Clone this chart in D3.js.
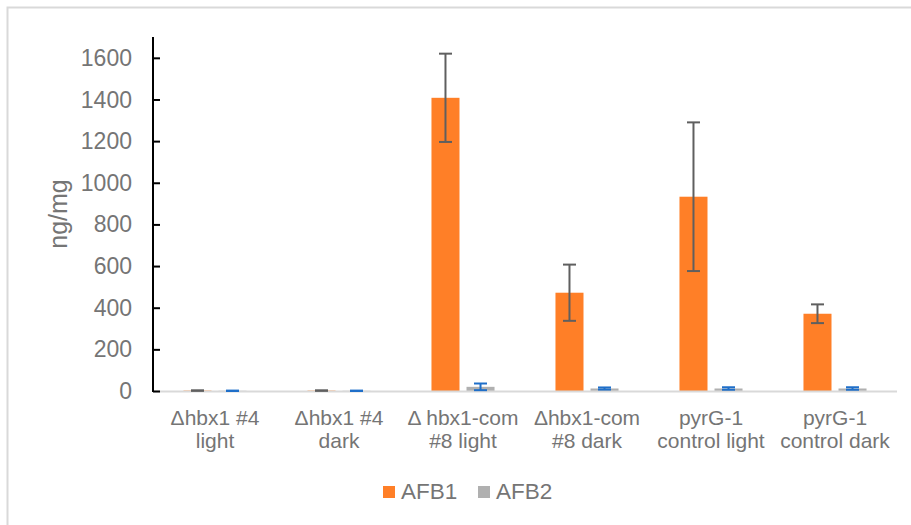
<!DOCTYPE html>
<html><head><meta charset="utf-8">
<script src="https://cdn.jsdelivr.net/npm/d3@7"></script>
<style>body{margin:0;background:#fff}svg{display:block}</style>
</head><body>
<svg id="c" width="911" height="525"></svg>
<script>
const categories = [
  ["Δhbx1 #4","light"],
  ["Δhbx1 #4","dark"],
  ["Δ hbx1-com","#8 light"],
  ["Δhbx1-com","#8 dark"],
  ["pyrG-1","control light"],
  ["pyrG-1","control dark"]
];
const seriesNames = ["AFB1","AFB2"];
const afb1 = [2, 2, 1408, 472, 933, 371];
const afb1Err = [1, 1, 212, 135, 357, 45];
const afb2 = [1, 1, 20, 12, 12, 12];
const afb2Err = [1, 1, 16, 5, 6, 6];
const yTicks = [0,200,400,600,800,1000,1200,1400,1600];

const colors = {AFB1:"#FF7F27", AFB2:"#B0B0B0"};
const errColors = {AFB1:"#5f5f5f", AFB2:"#1F6FC9"};
const vals = {AFB1:afb1, AFB2:afb2};
const errs = {AFB1:afb1Err, AFB2:afb2Err};

const svg = d3.select("#c");
svg.append("rect").attr("x",7.5).attr("y",7.5).attr("width",930).attr("height",560)
  .attr("fill","#fff").attr("stroke","#d9d9d9").attr("stroke-width",2);

const pLeft=153, pRight=897, pBottom=391, pTop=37;
const idx = categories.map((d,i)=>i);
const x0 = d3.scaleBand().domain(idx).range([pLeft,pRight]).padding(0);
const x1 = d3.scaleBand().domain(seriesNames).range([0,x0.bandwidth()]).paddingInner(0.2).paddingOuter(0.87);
const y = d3.scaleLinear().domain([0,1700]).range([pBottom,pTop]);

const font = "'Liberation Sans', Arial, sans-serif";
const textCol = "#757575";

// bars
seriesNames.forEach(s=>{
  svg.append("g").selectAll("rect").data(idx).join("rect")
    .attr("x",i=>x0(i)+x1(s)).attr("width",x1.bandwidth())
    .attr("y",i=>y(vals[s][i])).attr("height",i=>pBottom-y(vals[s][i]))
    .attr("fill",colors[s]);
});

// x axis line
svg.append("line").attr("x1",pLeft).attr("x2",pRight).attr("y1",pBottom+0.5).attr("y2",pBottom+0.5)
  .attr("stroke","#d9d9d9").attr("stroke-width",2);

// error bars
seriesNames.forEach(s=>{
  const g = svg.append("g").attr("stroke",errColors[s]).attr("stroke-width",2);
  idx.forEach(i=>{
    const cx = x0(i)+x1(s)+x1.bandwidth()/2;
    const hi = y(vals[s][i]+errs[s][i]), lo = y(Math.max(0,vals[s][i]-errs[s][i]));
    g.append("line").attr("x1",cx).attr("x2",cx).attr("y1",hi).attr("y2",lo);
    g.append("line").attr("x1",cx-6.5).attr("x2",cx+6.5).attr("y1",hi).attr("y2",hi);
    g.append("line").attr("x1",cx-6.5).attr("x2",cx+6.5).attr("y1",lo).attr("y2",lo);
  });
});

// y axis
const yAxis = d3.axisRight(y).tickValues(yTicks).tickSize(7).tickFormat("");
const ya = svg.append("g").attr("transform",`translate(${pLeft},0)`).call(yAxis);
ya.select(".domain").remove();
ya.selectAll("line").attr("stroke","#000").attr("stroke-width",2);
svg.append("line").attr("x1",pLeft).attr("x2",pLeft).attr("y1",pTop).attr("y2",pBottom+1)
  .attr("stroke","#000").attr("stroke-width",2);
svg.append("g").selectAll("text").data(yTicks).join("text")
  .attr("x",132).attr("y",d=>y(d)).attr("dy","0.35em").attr("text-anchor","end")
  .attr("font-family",font).attr("font-size",23).attr("fill",textCol).text(d=>d);

// y title
svg.append("text").attr("transform","translate(67,214) rotate(-90)").attr("text-anchor","middle")
  .attr("font-family",font).attr("font-size",25).attr("fill",textCol).text("ng/mg");

// x labels
const xl = svg.append("g");
idx.forEach(i=>{
  const cx = x0(i)+x0.bandwidth()/2;
  categories[i].forEach((line,k)=>{
    xl.append("text").attr("x",cx).attr("y",425+k*23).attr("text-anchor","middle")
      .attr("font-family",font).attr("font-size",21).attr("fill",textCol).text(line);
  });
});

// legend
const legX = [383, 478];
seriesNames.forEach((s,k)=>{
  svg.append("rect").attr("x",legX[k]).attr("y",486).attr("width",12).attr("height",12).attr("fill",colors[s]);
  svg.append("text").attr("x",legX[k]+18).attr("y",499).attr("font-family",font).attr("font-size",22.5)
    .attr("fill",textCol).text(s);
});
</script>
</body></html>
